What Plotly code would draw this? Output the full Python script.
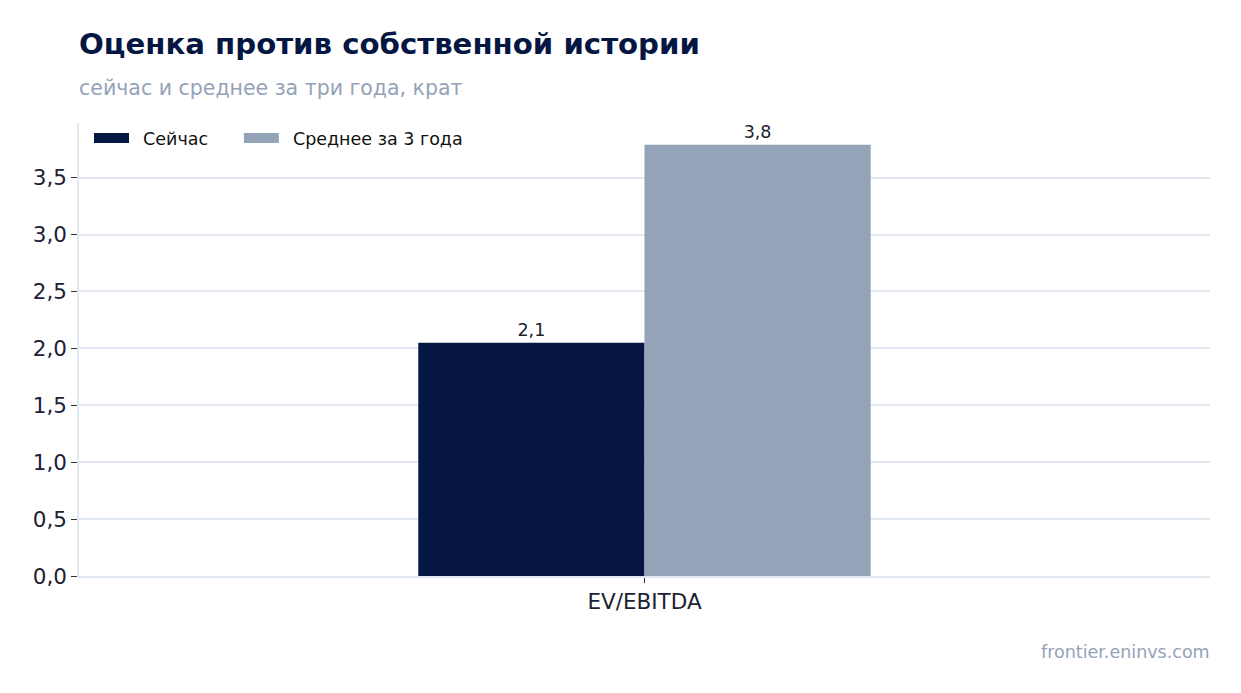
import plotly.graph_objects as go

categories = ["EV/EBITDA"]
now_values = [2.05]
avg3y_values = [3.79]
now_labels = ["2,1"]
avg3y_labels = ["3,8"]
legend_names = ["Сейчас", "Среднее за 3 года"]

navy = "#041641"
slate = "#94A3B8"
ink = "#1b2233"
font = "DejaVu Sans"

# page body has an 8px margin, so figure coords are shifted by 8
W, H = 1233, 685
L, R, T, B = 71, 31, 115, 117
plot_h = H - T - B
plot_w = W - L - R

fig = go.Figure()
fig.add_trace(go.Bar(
    x=categories, y=now_values, name=legend_names[0], showlegend=False,
    marker_color=navy, marker_line_width=0,
    text=now_labels, textposition="outside", cliponaxis=False,
    textfont=dict(size=17.5, color=ink)))
fig.add_trace(go.Bar(
    x=categories, y=avg3y_values, name=legend_names[1], showlegend=False,
    marker_color=slate, marker_line_width=0,
    text=avg3y_labels, textposition="outside", cliponaxis=False,
    textfont=dict(size=17.5, color=ink)))

# legend entries drawn as thick lines to get wide rectangle swatches
pad_l = "\u00a0\u2009"
pad_r = "\u00a0" * 4 + "\u2009"
for name, col in zip(legend_names, [navy, slate]):
    fig.add_trace(go.Scatter(x=[None], y=[None], mode="lines",
                             name=pad_l + name + pad_r,
                             line=dict(color=col, width=12)))

fig.update_layout(
    width=W, height=H,
    barmode="group", bargap=0.6, bargroupgap=0,
    plot_bgcolor="white", paper_bgcolor="white",
    font=dict(family=font, color=ink),
    separators=", ",
    margin=dict(l=L, r=R, t=T, b=B),
    title=dict(
        text="<b>Оценка против собственной истории</b>",
        x=L / W, xanchor="left", y=1 - 36 / H, yanchor="middle",
        font=dict(size=29.2, color=navy)),
    legend=dict(
        orientation="h", x=10 / plot_w, y=1 + 3 / plot_h, xanchor="left", yanchor="top",
        itemwidth=35,
        font=dict(size=17.5, color="#111111"), bgcolor="rgba(0,0,0,0)"),
    annotations=[
        dict(text="сейчас и среднее за три года, крат", xref="paper", yref="paper",
             x=-2 / plot_w, y=1 + 35 / plot_h, xanchor="left", yanchor="middle", showarrow=False,
             font=dict(size=20.5, color=slate)),
        dict(text="frontier.eninvs.com", xref="paper", yref="paper",
             x=1 + 2 / plot_w, y=-76 / plot_h, xanchor="right", yanchor="middle", showarrow=False,
             font=dict(size=17.5, color=slate)),
    ],
)
fig.update_xaxes(
    showline=True, linecolor="#e2e8f0", linewidth=1.5,
    ticks="outside", tickcolor="#333333", ticklen=5,
    tickfont=dict(size=21.5, color=ink), showgrid=False)
fig.update_yaxes(
    range=[0, 3.98], dtick=0.5, tickformat=".1f",
    showline=True, linecolor="#e2e8f0", linewidth=1.5,
    showgrid=True, gridcolor="#e2e8f0", gridwidth=1.5,
    ticks="outside", tickcolor="#333333", ticklen=6,
    tickfont=dict(size=21.5, color=ink), zeroline=False)

fig.write_html("out.html")
